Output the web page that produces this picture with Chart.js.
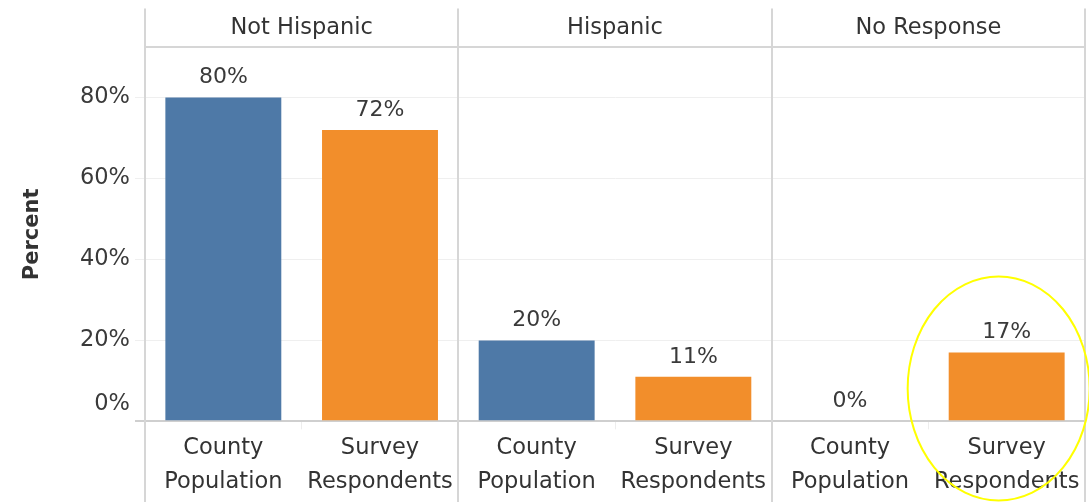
<!DOCTYPE html>
<html>
<head>
<meta charset="utf-8">
<script src="https://cdn.jsdelivr.net/npm/chart.js@4.4.1/dist/chart.umd.min.js"></script>
<style>
  html, body { margin: 0; padding: 0; background: #ffffff; }
  #wrap { width: 1089px; height: 502px; position: relative; }
</style>
</head>
<body>
<div id="wrap"><canvas id="c"></canvas></div>
<script>
// ---- data ----
const panels = ['Not Hispanic', 'Hispanic', 'No Response'];
const categories = [
  ['County', 'Population'], ['Survey', 'Respondents'],
  ['County', 'Population'], ['Survey', 'Respondents'],
  ['County', 'Population'], ['Survey', 'Respondents']
];
const groups = ['County Population', 'Survey Respondents'];
const values = [80, 72, 20, 11, 0, 17];
const yTicks = [0, 20, 40, 60, 80];
const yMax = 92.4;

// ---- style ----
const FONT = 'DejaVu Sans';
const BLUE = '#4e79a7';
const ORANGE = '#f28e2b';
const barColors = categories.map((c, i) => (i % 2 === 0 ? BLUE : ORANGE));
const SEP = '#d6d6d6';

const panelPlugin = {
  id: 'panels',
  beforeDatasetsDraw(chart) {
    const { ctx, chartArea, scales: { x } } = chart;
    const step = x.getPixelForValue(1) - x.getPixelForValue(0);
    ctx.save();
    ctx.strokeStyle = SEP;
    ctx.lineWidth = 2;
    for (let i = 0; i <= categories.length; i += 2) {
      const px = Math.round(x.getPixelForValue(i) - step / 2);
      ctx.beginPath();
      ctx.moveTo(px, chartArea.top - 39);
      ctx.lineTo(px, chart.height);
      ctx.stroke();
    }
    ctx.restore();
  },
  afterDatasetsDraw(chart) {
    const { ctx } = chart;
    const meta = chart.getDatasetMeta(0);
    ctx.save();
    ctx.font = '22px "' + FONT + '"';
    ctx.fillStyle = '#3a3a3a';
    ctx.textAlign = 'center';
    ctx.textBaseline = 'middle';
    meta.data.forEach((bar, i) => {
      ctx.fillText(values[i] + '%', bar.x, bar.y - 20);
    });
    // highlight ellipse around the last bar
    const last = meta.data[meta.data.length - 1];
    ctx.strokeStyle = '#ffff00';
    ctx.lineWidth = 2;
    ctx.beginPath();
    ctx.ellipse(last.x - 8, (last.y + last.base) / 2 + 2, 91, 112, 0, 0, Math.PI * 2);
    ctx.stroke();
    ctx.restore();
  }
};

new Chart(document.getElementById('c'), {
  type: 'bar',
  data: {
    labels: categories,
    datasets: [{
      label: 'Percent',
      data: values,
      backgroundColor: barColors,
      borderWidth: 0,
      categoryPercentage: 0.74,
      barPercentage: 1.0
    }]
  },
  options: {
    responsive: true,
    maintainAspectRatio: false,
    animation: false,
    layout: { padding: { top: 8.8, right: 4, bottom: 0.6, left: 0 } },
    plugins: { legend: { display: false }, tooltip: { enabled: false } },
    scales: {
      x: {
        type: 'category',
        position: 'bottom',
        offset: true,
        grid: {
          offset: true,
          drawOnChartArea: false,
          drawTicks: true,
          tickLength: 8,
          color: (ctx) => (ctx.index % 2 === 1 ? '#ededed' : SEP),
          lineWidth: 1
        },
        border: { display: false },
        ticks: {
          padding: 2.5,
          maxRotation: 0,
          minRotation: 0,
          autoSkip: false,
          color: '#333333',
          font: { family: FONT, size: 22.5, lineHeight: 1.49 }
        }
      },
      x2: {
        type: 'category',
        labels: panels,
        position: 'top',
        offset: true,
        grid: { offset: true, drawOnChartArea: false, drawTicks: false, color: 'rgba(0,0,0,0)' },
        border: { display: true, color: SEP, width: 2 },
        ticks: {
          padding: 5.8,
          maxRotation: 0,
          autoSkip: false,
          color: '#333333',
          font: { family: FONT, size: 22.5, lineHeight: 1.2 }
        }
      },
      y: {
        min: 0,
        max: yMax,
        afterBuildTicks: (scale) => { scale.ticks = yTicks.map(v => ({ value: v })); },
        afterFit: (scale) => { scale.width = 145; },
        title: {
          display: true,
          text: 'Percent',
          color: '#333333',
          font: { family: FONT, size: 21, weight: 'bold', lineHeight: 1.2 },
          padding: { top: 20, bottom: 0 }
        },
        grid: {
          color: (ctx) => (ctx.tick && ctx.tick.value === 0 ? '#cfcfcf' : '#efefef'),
          lineWidth: (ctx) => (ctx.tick && ctx.tick.value === 0 ? 2 : 1),
          tickLength: 10
        },
        border: { display: true, color: SEP, width: 2 },
        ticks: {
          padding: 5,
          color: '#3a3a3a',
          callback: (v) => (v === 0 ? ['0%', ''] : v + '%'),
          font: (ctx) => ({
            family: FONT,
            size: 22.5,
            lineHeight: (ctx.tick && ctx.tick.value === 0) ? 1.5 : 1.2
          })
        }
      }
    }
  },
  plugins: [panelPlugin]
});
</script>
</body>
</html>
